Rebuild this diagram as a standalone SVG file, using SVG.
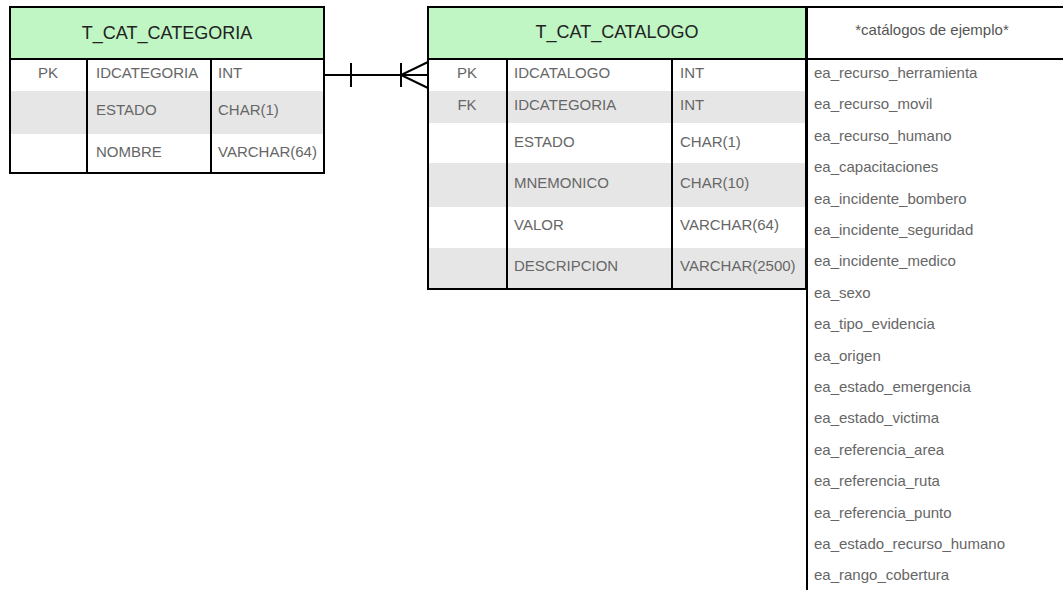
<svg xmlns="http://www.w3.org/2000/svg" width="1063" height="590" viewBox="0 0 1063 590">
<style>
.hdr{fill:#c0f5c4}
.stripe{fill:#e6e6e6}
.bd{fill:none;stroke:#000;stroke-width:2}
.ln{stroke:#000;stroke-width:2;fill:none}
.title{font-family:"Liberation Sans",Arial,sans-serif;font-size:18px;fill:#222;text-anchor:middle}
.sub{font-family:"Liberation Sans",Arial,sans-serif;font-size:15px;fill:#555;text-anchor:middle}
.f{font-family:"Liberation Sans",Arial,sans-serif;font-size:15px;fill:#666}
.k{font-family:"Liberation Sans",Arial,sans-serif;font-size:15px;fill:#666;text-anchor:middle}
</style>
<rect width="1063" height="590" fill="#fff"/>

<g id="t_cat_categoria">
  <rect class="hdr" x="10" y="7" width="314" height="52"/>
  <rect class="stripe" x="10" y="91" width="314" height="43"/>
  <rect class="bd" x="10" y="7" width="314" height="166"/>
  <line class="ln" x1="10" y1="59" x2="324" y2="59"/>
  <line class="ln" x1="87" y1="59" x2="87" y2="173"/>
  <line class="ln" x1="211" y1="59" x2="211" y2="173"/>
  <text class="title" x="167" y="38.5">T_CAT_CATEGORIA</text>
  <text class="k" x="48" y="78">PK</text>
  <text class="f" x="96" y="78">IDCATEGORIA</text>
  <text class="f" x="218" y="78">INT</text>
  <text class="f" x="96" y="115">ESTADO</text>
  <text class="f" x="218" y="115">CHAR(1)</text>
  <text class="f" x="96" y="157">NOMBRE</text>
  <text class="f" x="218" y="157">VARCHAR(64)</text>
</g>

<g id="t_cat_catalogo">
  <rect class="hdr" x="428" y="7" width="378" height="52"/>
  <rect class="stripe" x="428" y="91" width="378" height="32"/>
  <rect class="stripe" x="428" y="163" width="378" height="44"/>
  <rect class="stripe" x="428" y="248" width="378" height="41"/>
  <rect class="bd" x="428" y="7" width="378" height="282"/>
  <line class="ln" x1="428" y1="59" x2="806" y2="59"/>
  <line class="ln" x1="507" y1="59" x2="507" y2="289"/>
  <line class="ln" x1="672" y1="59" x2="672" y2="289"/>
  <text class="title" x="617" y="37.5">T_CAT_CATALOGO</text>
  <text class="k" x="467" y="78">PK</text>
  <text class="f" x="514" y="78">IDCATALOGO</text>
  <text class="f" x="680" y="78">INT</text>
  <text class="k" x="467" y="110">FK</text>
  <text class="f" x="514" y="110">IDCATEGORIA</text>
  <text class="f" x="680" y="110">INT</text>
  <text class="f" x="514" y="147">ESTADO</text>
  <text class="f" x="680" y="147">CHAR(1)</text>
  <text class="f" x="514" y="188">MNEMONICO</text>
  <text class="f" x="680" y="188">CHAR(10)</text>
  <text class="f" x="514" y="230">VALOR</text>
  <text class="f" x="680" y="230">VARCHAR(64)</text>
  <text class="f" x="514" y="271">DESCRIPCION</text>
  <text class="f" x="680" y="271">VARCHAR(2500)</text>
</g>

<g id="catalogos_ejemplo">
  <line class="ln" x1="806" y1="7" x2="1063" y2="7"/>
  <line class="ln" x1="806" y1="59" x2="1063" y2="59"/>
  <line class="ln" x1="807" y1="7" x2="807" y2="590"/>
  <text class="sub" x="932" y="35">*catálogos de ejemplo*</text>
  <text class="f" x="814" y="78">ea_recurso_herramienta</text>
  <text class="f" x="814" y="109.4">ea_recurso_movil</text>
  <text class="f" x="814" y="140.8">ea_recurso_humano</text>
  <text class="f" x="814" y="172.2">ea_capacitaciones</text>
  <text class="f" x="814" y="203.6">ea_incidente_bombero</text>
  <text class="f" x="814" y="235">ea_incidente_seguridad</text>
  <text class="f" x="814" y="266.4">ea_incidente_medico</text>
  <text class="f" x="814" y="297.8">ea_sexo</text>
  <text class="f" x="814" y="329.2">ea_tipo_evidencia</text>
  <text class="f" x="814" y="360.6">ea_origen</text>
  <text class="f" x="814" y="392">ea_estado_emergencia</text>
  <text class="f" x="814" y="423.4">ea_estado_victima</text>
  <text class="f" x="814" y="454.8">ea_referencia_area</text>
  <text class="f" x="814" y="486.2">ea_referencia_ruta</text>
  <text class="f" x="814" y="517.6">ea_referencia_punto</text>
  <text class="f" x="814" y="549">ea_estado_recurso_humano</text>
  <text class="f" x="814" y="580.4">ea_rango_cobertura</text>
</g>

<g id="connectors">
  <line class="ln" x1="324" y1="75" x2="428" y2="75"/>
  <line class="ln" x1="351" y1="63" x2="351" y2="87"/>
  <line class="ln" x1="401" y1="63" x2="401" y2="87"/>
  <polyline class="ln" points="428,62 401,75 428,88"/>
</g>
</svg>
